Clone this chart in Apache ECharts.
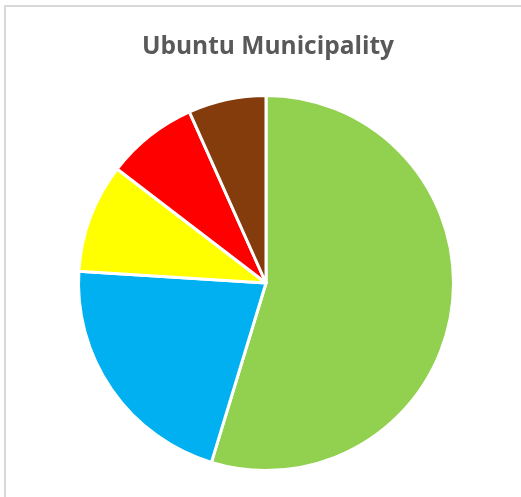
<!DOCTYPE html>
<html>
<head>
<meta charset="utf-8">
<script src="https://cdn.jsdelivr.net/npm/echarts@6/dist/echarts.min.js"></script>
<style>
  html, body { margin: 0; padding: 0; background: #ffffff; }
  #chart { width: 521px; height: 497px; }
</style>
</head>
<body>
<div id="chart"></div>
<script>
// Share of each segment, clockwise from 12 o'clock
const categories = ['Segment 1', 'Segment 2', 'Segment 3', 'Segment 4', 'Segment 5'];
const shares = [54.7, 21.3, 9.4, 7.9, 6.7];
const sliceColors = ['#92D050', '#00B0F0', '#FFFF00', '#FF0000', '#843C0C'];
const chartTitle = 'Ubuntu Municipality';

const chart = echarts.init(document.getElementById('chart'), null, { renderer: 'canvas' });

chart.setOption({
  backgroundColor: '#ffffff',
  animation: false,
  graphic: [{
    type: 'rect',
    shape: { x: 5, y: 6, width: 600, height: 600 },
    style: { fill: 'none', stroke: '#d9d9d9', lineWidth: 2 },
    silent: true
  }, {
    // chart heading
    type: 'text',
    x: 268,
    y: 35,
    style: {
      text: chartTitle,
      align: 'center',
      verticalAlign: 'top',
      font: 'bold 24.5px "Open Sans"',
      fill: '#595959'
    },
    silent: true
  }],
  series: [{
    type: 'pie',
    center: [266, 283],
    radius: [0, 187.5],
    startAngle: 90,
    clockwise: true,
    label: { show: false },
    labelLine: { show: false },
    emphasis: { disabled: true },
    itemStyle: { borderColor: '#ffffff', borderWidth: 3 },
    data: categories.map((name, i) => ({
      name,
      value: shares[i],
      itemStyle: { color: sliceColors[i] }
    }))
  }]
});
</script>
</body>
</html>
